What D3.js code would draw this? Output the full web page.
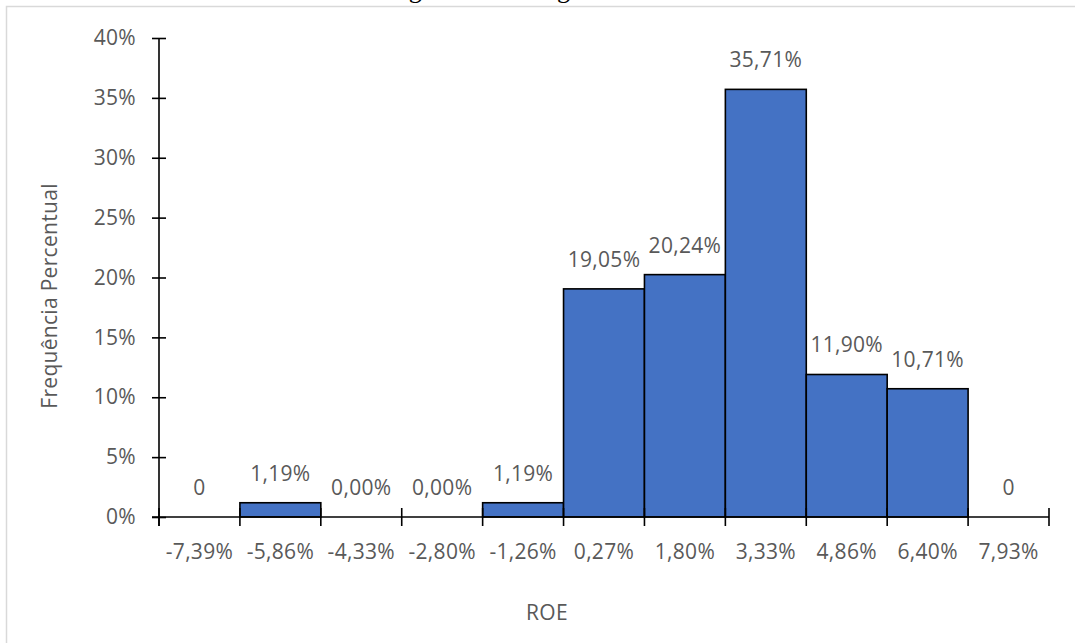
<!DOCTYPE html>
<html>
<head>
<meta charset="utf-8">
<script src="https://cdn.jsdelivr.net/npm/d3@7"></script>
<style>
  body { margin: 0; background: #fff; }
  text { font-family: "Open Sans", "Noto Sans", sans-serif; letter-spacing: 0.3px; }
</style>
</head>
<body>
<script>
    var w = 1075; //width of the SVG canvas
    var h = 643; //height of the SVG canvas

    // bins of the histogram (lower bound labels) and their percent frequency
    var bins = ["-7,39%", "-5,86%", "-4,33%", "-2,80%", "-1,26%", "0,27%", "1,80%", "3,33%", "4,86%", "6,40%", "7,93%"];
    var freq = [0, 1.19, 0, 0, 1.19, 19.05, 20.24, 35.71, 11.90, 10.71, 0];
    var freqLabels = ["0", "1,19%", "0,00%", "0,00%", "1,19%", "19,05%", "20,24%", "35,71%", "11,90%", "10,71%", "0"];
    var yTicks = [0, 5, 10, 15, 20, 25, 30, 35, 40];

    var pLeft = 159, pRight = 1049, pTop = 38, pBottom = 517;
    var grey = "#595959";
    var fs = "21px";

    var xScale = d3.scaleBand()
        .domain(bins)
        .range([pLeft, pRight])
        .padding(0);

    var yScale = d3.scaleLinear()
        .domain([0, 40])
        .range([pBottom, pTop]);

    var svg = d3.select("body")
                .append("svg")
                .attr("width", w)
                .attr("height", h);

    // outer frame of the chart (light grey, cut by the page edge)
    svg.append("rect")
        .attr("x", 6.5).attr("y", 6.5)
        .attr("width", w + 20).attr("height", h + 20)
        .attr("fill", "none")
        .attr("stroke", "#d9d9d9")
        .attr("stroke-width", 1.5);

    // figure caption, mostly cut off at the top
    svg.append("text")
        .attr("x", 550)
        .attr("y", -2)
        .attr("text-anchor", "middle")
        .style("font-family", "'Liberation Serif', serif")
        .style("font-size", "26px")
        .style("letter-spacing", "0px")
        .attr("fill", "#000")
        .text("Figura 2 – Histograma do ROE");

    // bars
    svg.selectAll("rect.bar")
        .data(freq)
        .enter()
        .append("rect")
        .attr("class", "bar")
        .attr("x", function(d, i) { return xScale(bins[i]); })
        .attr("y", function(d) { return yScale(d); })
        .attr("width", xScale.bandwidth())
        .attr("height", function(d) { return pBottom - yScale(d); })
        .attr("fill", "#4472C4")
        .attr("stroke", function(d) { return d > 0 ? "#000" : "none"; })
        .attr("stroke-width", 1.6);

    // data labels above each bar
    svg.selectAll("text.lbl")
        .data(freq)
        .enter()
        .append("text")
        .attr("class", "lbl")
        .attr("x", function(d, i) { return xScale(bins[i]) + xScale.bandwidth() / 2; })
        .attr("y", function(d) { return yScale(d) - 22; })
        .attr("text-anchor", "middle")
        .attr("fill", grey)
        .style("font-size", fs)
        .text(function(d, i) { return freqLabels[i]; });

    // y axis
    var yAxis = d3.axisLeft(yScale)
        .tickValues(yTicks)
        .tickFormat(function(d) { return d + "%"; })
        .tickSizeInner(7)
        .tickSizeOuter(0)
        .tickPadding(16);

    var gy = svg.append("g")
        .attr("transform", "translate(" + pLeft + ",0)")
        .call(yAxis);
    gy.select(".domain").attr("stroke", "#000").attr("stroke-width", 1.6)
        .attr("d", "M0," + pTop + "V" + (pBottom + 9));
    gy.selectAll(".tick line").attr("stroke", "#000").attr("stroke-width", 1.6)
        .attr("x1", 7);
    gy.selectAll(".tick text").attr("fill", grey).style("font-size", fs);

    // x axis: ticks at bin boundaries, labels centred under bins
    var edges = bins.map(function(b) { return xScale(b); }).concat([pRight]);
    var gx = svg.append("g");
    gx.append("line")
        .attr("x1", pLeft - 7).attr("x2", pRight)
        .attr("y1", pBottom).attr("y2", pBottom)
        .attr("stroke", "#000").attr("stroke-width", 1.6);
    gx.selectAll("line.xt")
        .data(edges)
        .enter()
        .append("line")
        .attr("class", "xt")
        .attr("x1", function(d) { return d; }).attr("x2", function(d) { return d; })
        .attr("y1", pBottom - 9).attr("y2", pBottom + 9)
        .attr("stroke", "#000").attr("stroke-width", 1.6);
    gx.selectAll("text")
        .data(bins)
        .enter()
        .append("text")
        .attr("x", function(d) { return xScale(d) + xScale.bandwidth() / 2; })
        .attr("y", pBottom + 42)
        .attr("text-anchor", "middle")
        .attr("fill", grey)
        .style("font-size", fs)
        .text(function(d) { return d; });

    // axis titles
    svg.append("text")
        .attr("text-anchor", "middle")
        .attr("x", 547)
        .attr("y", 620)
        .attr("fill", grey)
        .style("font-size", fs)
        .text("ROE");

    svg.append("text")
        .attr("text-anchor", "middle")
        .attr("transform", "translate(57,296) rotate(-90)")
        .attr("fill", grey)
        .style("font-size", fs)
        .text("Frequência Percentual");
</script>
</body>
</html>
